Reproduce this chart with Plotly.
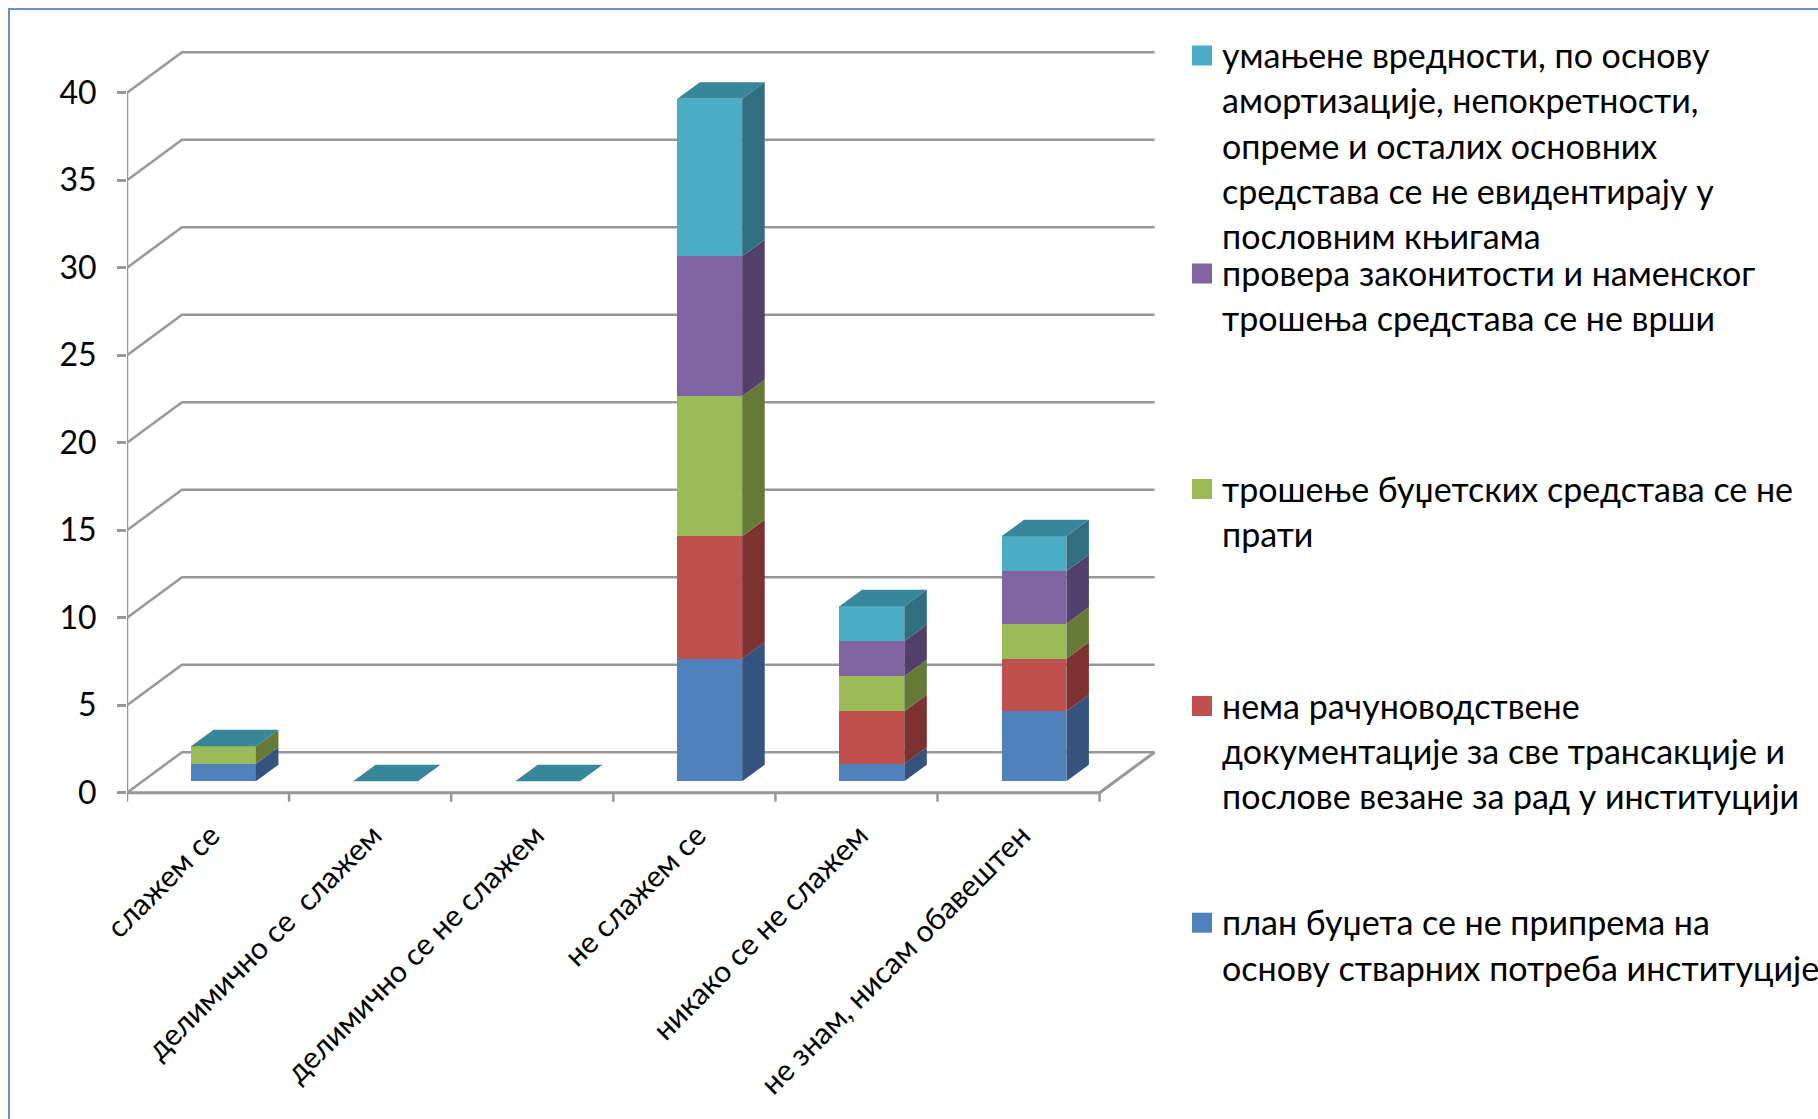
import plotly.graph_objects as go

# ---- data -------------------------------------------------------------
categories = [
    "слажем се",
    "делимично се  слажем",
    "делимично се не слажем",
    "не слажем се",
    "никако се не слажем",
    "не знам, нисам обавештен",
]

# stacked series, bottom to top
plan_budzeta = [1, 0, 0, 7, 1, 4]
nema_dokumentacije = [0, 0, 0, 7, 3, 3]
trosenje_ne_prati = [1, 0, 0, 8, 2, 2]
provera_ne_vrsi = [0, 0, 0, 8, 2, 3]
umanjene_vrednosti = [0, 0, 0, 9, 2, 2]

series_labels = [
    "план буџета се не припрема на<br>основу стварних потреба институције",
    "нема рачуноводствене<br>документације за све трансакције и<br>послове везане за рад у институцији",
    "трошење буџетских средстава се не<br>прати",
    "провера законитости и наменског<br>трошења средстава се не врши",
    "умањене вредности, по основу<br>амортизације, непокретности,<br>опреме и осталих основних<br>средстава се не евидентирају у<br>пословним књигама",
]

y_ticks = [0, 5, 10, 15, 20, 25, 30, 35, 40]

# ---- styling ------------------------------------------------------------
front_colors = ["#4F81BD", "#C0504D", "#9BBB59", "#8064A2", "#4BACC6"]
side_colors = ["#34547F", "#7D3230", "#657A37", "#53406A", "#316F80"]
top_color = "#38869A"
grid_color = "#979797"
FONT = "Lato, 'Open Sans', sans-serif"

W, H = 1818, 1119
ML, MR, MT, MB = 127, 656, 31, 309
PW = W - ML - MR
PH = H - MT - MB
PX_PER_CAT = 162.1
PX_PER_UNIT = 17.5
Y0_PX = 792.7

x_range = [-0.5, -0.5 + PW / PX_PER_CAT]
y_range = [-(MT + PH - Y0_PX) / PX_PER_UNIT, (Y0_PX - MT) / PX_PER_UNIT]

# depth of the 3-D box (back wall offset) in data units
DX = 55.0 / PX_PER_CAT
DY = 40.5 / PX_PER_UNIT
# bar placement inside the depth
F_OFF = 0.28
B_DEPTH = 0.41
BAR_W = 0.40
fx, fy = F_OFF * DX, F_OFF * DY
bx, by = B_DEPTH * DX, B_DEPTH * DY

n = len(categories)
x_left, x_right = -0.5, n - 0.5


def px_x(p):
    return (p - ML) / PW


def px_y(p):
    return 1 - (p - MT) / PH


fig = go.Figure()

# ---- walls, floor and grid ------------------------------------------------
shapes = []
line = dict(color=grid_color, width=2.5)
for v in y_ticks:
    shapes.append(dict(type="path", xref="x", yref="y", layer="below", line=line,
                       path=f"M{x_left},{v} L{x_left + DX},{v + DY} L{x_right + DX},{v + DY}"))
# front floor edge and right floor edge
shapes.append(dict(type="path", xref="x", yref="y", layer="below", line=dict(color=grid_color, width=3),
                   path=f"M{x_left},0 L{x_right},0 L{x_right + DX},{DY}"))
# vertical value axis
shapes.append(dict(type="line", xref="x", yref="y", layer="below", line=line,
                   x0=x_left, y0=0, x1=x_left, y1=y_ticks[-1]))
# category tick marks under the floor
for k in range(n + 1):
    b = x_left + k
    shapes.append(dict(type="line", xref="x", yref="y", layer="below", line=line,
                       x0=b, y0=0, x1=b, y1=-9 / PX_PER_UNIT))

# ---- stacked 3-D columns ----------------------------------------------------
series = [plan_budzeta, nema_dokumentacije, trosenje_ne_prati, provera_ne_vrsi, umanjene_vrednosti]
base = [0] * n
for vals, label, fc, sc in zip(series, series_labels, front_colors, side_colors):
    fig.add_bar(
        x=[i + fx for i in range(n)], y=vals, base=[b + fy for b in base],
        width=BAR_W, marker=dict(color=fc, line=dict(width=0)),
        name=label.replace("<br>", " "), showlegend=False,
    )
    xs, ys = [], []
    for i, (b, v) in enumerate(zip(base, vals)):
        if v <= 0:
            continue
        xr = i + fx + BAR_W / 2
        y0, y1 = b + fy, b + v + fy
        xs += [xr, xr + bx, xr + bx, xr, xr, None]
        ys += [y0, y0 + by, y1 + by, y1, y0, None]
    fig.add_scatter(x=xs, y=ys, fill="toself", fillcolor=sc, mode="lines",
                    line=dict(width=0), hoverinfo="skip", showlegend=False)
    base = [b + v for b, v in zip(base, vals)]

# top faces of the stacks
xs, ys = [], []
for i, t in enumerate(base):
    xl, xr = i + fx - BAR_W / 2, i + fx + BAR_W / 2
    tt = t + fy
    xs += [xl, xl + bx, xr + bx, xr, xl, None]
    ys += [tt, tt + by, tt + by, tt, tt, None]
fig.add_scatter(x=xs, y=ys, fill="toself", fillcolor=top_color, mode="lines",
                line=dict(width=0), hoverinfo="skip", showlegend=False)

# ---- legend (one text row per line so the row pitch can be set) -------------
legend_first_line = [921.7, 705.0, 488.0, 272.5, 54.5]  # pixel row of first text line
LINE_H = 45.3
annotations = []
for label, fc, y_first in zip(series_labels, front_colors, legend_first_line):
    for k, row in enumerate(label.split("<br>")):
        annotations.append(dict(xref="paper", yref="paper", x=px_x(1220), y=px_y(y_first + k * LINE_H),
                                xanchor="left", yanchor="middle", align="left", showarrow=False,
                                text=row, font=dict(family=FONT, size=34, color="black")))
    shapes.append(dict(type="rect", xref="paper", yref="paper", line=dict(width=0), fillcolor=fc,
                       x0=px_x(1192), x1=px_x(1212), y0=px_y(y_first - 9), y1=px_y(y_first + 11)))

# chart frame
shapes.append(dict(type="rect", xref="paper", yref="paper", line=dict(color="#6A92CA", width=2),
                   x0=px_x(9), x1=px_x(W + 20), y0=px_y(9), y1=px_y(H + 20)))

fig.update_layout(
    template="none",
    width=W, height=H,
    margin=dict(l=ML, r=MR, t=MT, b=MB, autoexpand=False),
    paper_bgcolor="white", plot_bgcolor="white",
    barmode="overlay", bargap=0,
    showlegend=False,
    shapes=shapes, annotations=annotations,
    font=dict(family=FONT, color="black"),
    xaxis=dict(range=x_range, tickmode="array", tickvals=list(range(n)), ticktext=categories,
               tickangle=-45, ticks="", showline=False, showgrid=False, zeroline=False,
               automargin=False, tickfont=dict(size=30, family=FONT, color="black"),
               ticklabelstandoff=1, ticklabelshift=3),
    yaxis=dict(range=y_range, tickmode="array", tickvals=y_ticks, ticks="outside", ticklen=9,
               tickwidth=2.5, tickcolor=grid_color, showline=False, showgrid=False, zeroline=False,
               automargin=False, tickfont=dict(size=32, family=FONT, color="black"),
               ticklabelstandoff=14),
)

fig.write_html("out.html")
